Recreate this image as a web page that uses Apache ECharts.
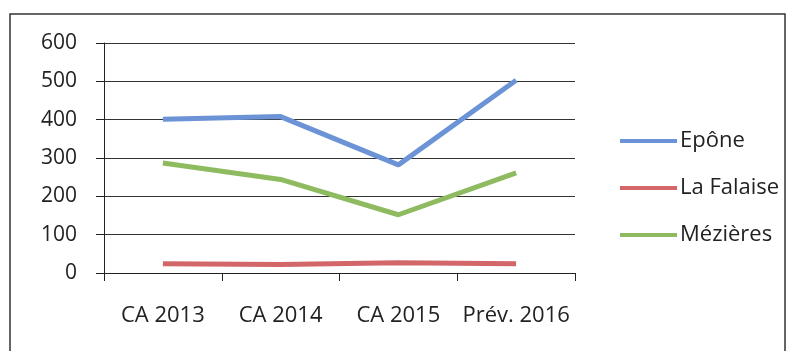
<!DOCTYPE html>
<html>
<head>
<meta charset="utf-8">
<script src="https://cdn.jsdelivr.net/npm/echarts@6/dist/echarts.min.js"></script>
<style>
  html, body { margin: 0; padding: 0; background: #fff; }
  #chart { width: 797px; height: 351px; }
</style>
</head>
<body>
<div id="chart"></div>
<script>
    // données
    var categories = ['CA 2013', 'CA 2014', 'CA 2015', 'Prév. 2016'];
    var epone = [401, 408, 282, 503];
    var laFalaise = [24, 22, 27, 24];
    var mezieres = [287, 244, 152, 261];
    var yTicks = [0, 100, 200, 300, 400, 500, 600];

    var textColor = '#222';
    var fontFamily = 'Open Sans, Noto Sans, sans-serif';

    var myChart = echarts.init(document.getElementById('chart'), null, { renderer: 'canvas' });

    var lineSeries = function(name, data, color) {
        return {
            name: name,
            type: 'line',
            data: data,
            symbol: 'none',
            lineStyle: { color: color, width: 5 },
            itemStyle: { color: color },
            animation: false
        };
    };

    var option = {
        backgroundColor: '#fff',
        animation: false,
        textStyle: { fontFamily: fontFamily, color: textColor },
        graphic: [{
            type: 'rect',
            shape: { x: 10, y: 14, width: 775, height: 360 },
            style: { fill: 'none', stroke: '#333', lineWidth: 1.5 },
            silent: true
        }],
        grid: { left: 104, right: 222, top: 43, bottom: 78 },
        legend: {
            orient: 'vertical',
            left: 615,
            top: 124,
            icon: 'rect',
            itemWidth: 57,
            itemHeight: 4,
            itemGap: 23,
            textStyle: { fontFamily: fontFamily, fontSize: 22, color: textColor, lineHeight: 24, padding: [0, 0, 0, -2] },
            data: ['Epône', 'La Falaise', 'Mézières']
        },
        xAxis: {
            type: 'category',
            data: categories,
            boundaryGap: true,
            axisLine: { lineStyle: { color: '#222', width: 1 } },
            axisTick: { show: true, length: 8, lineStyle: { color: '#222' } },
            axisLabel: { interval: 0, hideOverlap: false, fontSize: 22, color: textColor, margin: 32, fontFamily: fontFamily }
        },
        yAxis: {
            type: 'value',
            min: yTicks[0],
            max: yTicks[yTicks.length - 1],
            interval: 100,
            axisLine: { show: true, lineStyle: { color: '#222', width: 1 } },
            axisTick: { show: true, length: 8, lineStyle: { color: '#222' } },
            axisLabel: { fontSize: 21, color: textColor, margin: 27, fontFamily: fontFamily },
            splitLine: { show: true, lineStyle: { color: '#333', width: 1 } }
        },
        series: [
            lineSeries('Epône', epone, '#6b93d6'),
            lineSeries('La Falaise', laFalaise, '#d26668'),
            lineSeries('Mézières', mezieres, '#8fbb60')
        ]
    };
    myChart.setOption(option);
</script>
</body>
</html>
